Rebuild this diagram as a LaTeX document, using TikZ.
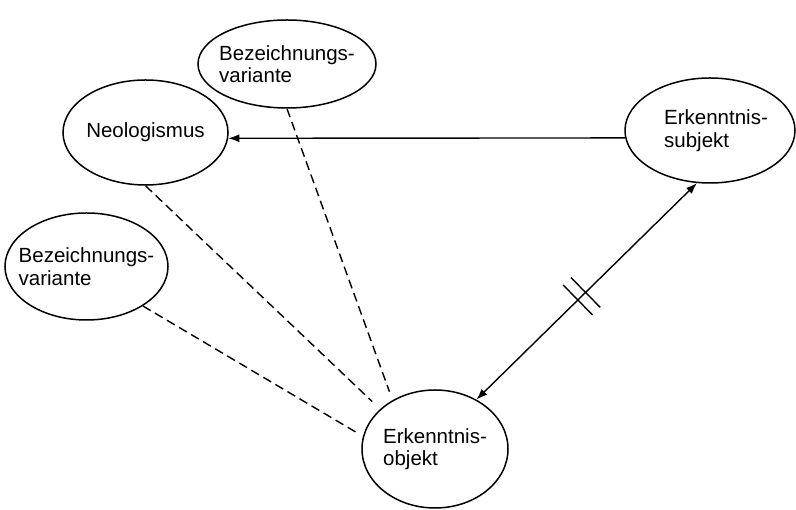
\documentclass[tikz,border=0pt]{standalone}
\usepackage{fontspec}
\setmainfont{Liberation Sans}
\usetikzlibrary{arrows.meta,calc,shapes.geometric}
\tikzset{
  bubble/.style={ellipse,draw=black,line width=1.5pt,inner sep=-30pt,align=left,
    font=\fontsize{20.5}{22.5}\selectfont},
  arrow/.style={-{Latex[length=11pt,width=8pt]},draw=black,line width=1.4pt},
  twoway/.style={{Latex[length=11pt,width=8pt]}-{Latex[length=11pt,width=8pt]},
    draw=black,line width=1.4pt},
  relation/.style={draw=black,line width=1.4pt,dash pattern=on 9pt off 5pt},
  hatch/.style={draw=black,line width=1.4pt}
}
\begin{document}
\begin{tikzpicture}[x=1pt,y=1pt]
  \useasboundingbox (0,0) rectangle (796,510);
  \node[bubble,minimum width=178,minimum height=88] (bvtop) at (287,446) {Bezeichnungs-\\variante};
  \node[bubble,minimum width=165,minimum height=105] (neo) at (145.5,377.5) {Neologismus};
  \node[bubble,minimum width=163,minimum height=107] (bvleft) at (86.5,243.5) {Bezeichnungs-\\variante};
  \node[bubble,minimum width=170,minimum height=105] (subj) at (710,379.5) {\hspace*{12pt}Erkenntnis-\\\hspace*{12pt}subjekt};
  \node[bubble,minimum width=146,minimum height=118] (obj) at (435,61) {Erkenntnis-\\objekt};
  % Beziehungen
  \draw[arrow] (subj.185) -- (neo.-4);
  \draw[twoway] (obj.50) -- (subj.-104);
  \foreach \p in {0.46,0.495}{
    \coordinate (m) at ($(obj.50)!\p!(subj.-104)$);
    \draw[hatch] ($(m)!21pt!90:(subj.-104)$) -- ($(m)!21pt!-90:(subj.-104)$);
  }
  \draw[relation,shorten >=11pt] (neo.south) -- (obj.144);
  \draw[relation,shorten >=9pt] (bvtop.south) -- (obj.131);
  \draw[relation,shorten >=6pt] (bvleft.-35) -- (obj.170);
\end{tikzpicture}
\end{document}
